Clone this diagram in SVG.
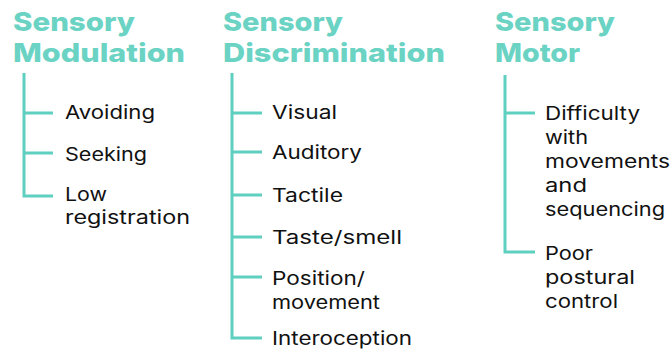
<svg xmlns="http://www.w3.org/2000/svg" width="671" height="351" viewBox="0 0 671 351">
  <style>
    .head { font-family: Inter, Lato, "Liberation Sans", sans-serif; font-weight: 800; font-size: 26px; fill: #6bd3c3; }
    .item { font-family: Inter, Lato, "Liberation Sans", sans-serif; font-weight: 400; font-size: 18.5px; fill: #111111; }
    .tree { fill: none; stroke: #5fcfbf; stroke-width: 3; stroke-linecap: butt; stroke-linejoin: miter; }
  </style>
  <rect width="671" height="351" fill="#ffffff"/>

  <g id="connectors">
    <path class="tree" d="M24 73 V196 H53 M24 113 H53 M24 153 H53"/>
    <path class="tree" d="M232 73 V338 H262 M232 113 H262 M232 152 H262 M232 195 H262 M232 237 H262 M232 277 H262"/>
    <path class="tree" d="M505 75 V252 H535 M505 113 H535"/>
  </g>

  <g id="modulation">
    <text class="head" x="13" y="31" textLength="122" lengthAdjust="spacingAndGlyphs">Sensory</text>
    <text class="head" x="13" y="62" textLength="172" lengthAdjust="spacingAndGlyphs">Modulation</text>
  </g>
  <g id="modulation-avoiding"><text class="item" x="65" y="119" textLength="90" lengthAdjust="spacingAndGlyphs">Avoiding</text></g>
  <g id="modulation-seeking"><text class="item" x="65" y="161" textLength="82" lengthAdjust="spacingAndGlyphs">Seeking</text></g>
  <g id="modulation-low">
    <text class="item" x="65" y="201" textLength="42" lengthAdjust="spacingAndGlyphs">Low</text>
    <text class="item" x="65" y="224" textLength="125" lengthAdjust="spacingAndGlyphs">registration</text>
  </g>

  <g id="discrimination">
    <text class="head" x="223" y="31" textLength="120" lengthAdjust="spacingAndGlyphs">Sensory</text>
    <text class="head" x="223" y="62" textLength="222" lengthAdjust="spacingAndGlyphs">Discrimination</text>
  </g>
  <g id="discrimination-visual"><text class="item" x="272" y="119" textLength="65" lengthAdjust="spacingAndGlyphs">Visual</text></g>
  <g id="discrimination-auditory"><text class="item" x="272" y="159" textLength="90" lengthAdjust="spacingAndGlyphs">Auditory</text></g>
  <g id="discrimination-tactile"><text class="item" x="272" y="202" textLength="71" lengthAdjust="spacingAndGlyphs">Tactile</text></g>
  <g id="discrimination-taste"><text class="item" x="272" y="244" textLength="130" lengthAdjust="spacingAndGlyphs">Taste/smell</text></g>
  <g id="discrimination-position">
    <text class="item" x="272" y="285" textLength="93" lengthAdjust="spacingAndGlyphs">Position/</text>
    <text class="item" x="272" y="309" textLength="108" lengthAdjust="spacingAndGlyphs">movement</text>
  </g>
  <g id="discrimination-interoception"><text class="item" x="272" y="345" textLength="140" lengthAdjust="spacingAndGlyphs">Interoception</text></g>

  <g id="motor">
    <text class="head" x="495" y="31" textLength="120" lengthAdjust="spacingAndGlyphs">Sensory</text>
    <text class="head" x="495" y="62" textLength="85" lengthAdjust="spacingAndGlyphs">Motor</text>
  </g>
  <g id="motor-difficulty">
    <text class="item" x="545" y="120" textLength="95" lengthAdjust="spacingAndGlyphs">Difficulty</text>
    <text class="item" x="545" y="144" textLength="43" lengthAdjust="spacingAndGlyphs">with</text>
    <text class="item" x="545" y="168" textLength="125" lengthAdjust="spacingAndGlyphs">movements</text>
    <text class="item" x="545" y="192" textLength="42" lengthAdjust="spacingAndGlyphs">and</text>
    <text class="item" x="545" y="216" textLength="120" lengthAdjust="spacingAndGlyphs">sequencing</text>
  </g>
  <g id="motor-postural">
    <text class="item" x="545" y="260" textLength="48" lengthAdjust="spacingAndGlyphs">Poor</text>
    <text class="item" x="545" y="284" textLength="90" lengthAdjust="spacingAndGlyphs">postural</text>
    <text class="item" x="545" y="308" textLength="73" lengthAdjust="spacingAndGlyphs">control</text>
  </g>
</svg>
